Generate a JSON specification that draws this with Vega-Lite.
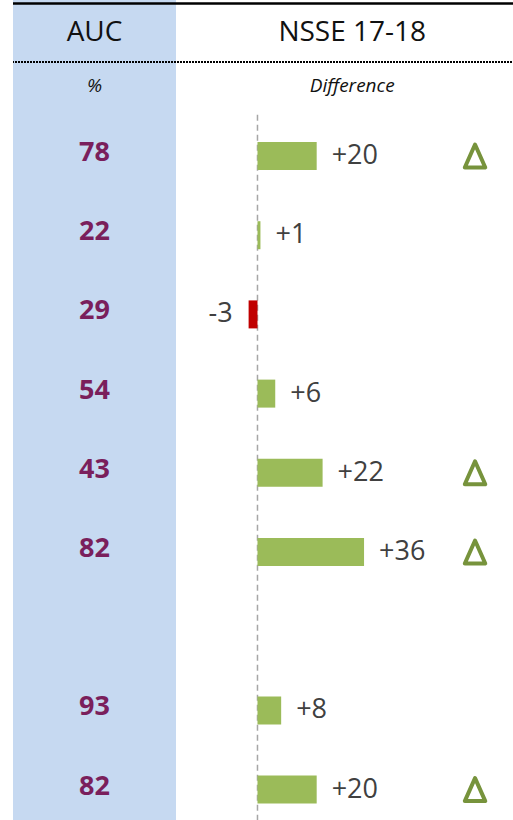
{
  "$schema": "https://vega.github.io/schema/vega-lite/v6.json",
  "padding": {"left": 11, "right": 0, "top": 0, "bottom": 0},
  "spacing": 0,
  "bounds": "flush",
  "background": "white",
  "config": {
    "view": {"stroke": null},
    "axisX": {"disable": true},
    "axisY": {"disable": true},
    "scale": {"continuousPadding": 0},
    "text": {"font": "Open Sans"}
  },
  "datasets": {
    "rows": [
      {"row": 1, "auc": 78, "diff": 20, "label": "+20", "sig": true},
      {"row": 2, "auc": 22, "diff": 1, "label": "+1", "sig": false},
      {"row": 3, "auc": 29, "diff": -3, "label": "-3", "sig": false},
      {"row": 4, "auc": 54, "diff": 6, "label": "+6", "sig": false},
      {"row": 5, "auc": 43, "diff": 22, "label": "+22", "sig": true},
      {"row": 6, "auc": 82, "diff": 36, "label": "+36", "sig": true},
      {"row": 8, "auc": 93, "diff": 8, "label": "+8", "sig": false},
      {"row": 9, "auc": 82, "diff": 20, "label": "+20", "sig": true}
    ],
    "header": [{"auc": "AUC", "auc_sub": "%", "nsse": "NSSE 17-18", "nsse_sub": "Difference"}]
  },
  "hconcat": [
    {
      "width": 163,
      "height": 820,
      "view": {"fill": "#C6D9F1", "stroke": null},
      "layer": [
        {
          "data": {"name": "rows"},
          "mark": {"type": "text", "fontWeight": "bold", "fontSize": 27, "color": "#7A1F5C", "baseline": "middle", "dy": -3},
          "encoding": {
            "y": {"field": "row", "type": "quantitative", "scale": {"domain": [-0.97, 9.384], "reverse": true, "zero": false, "nice": false, "padding": 0}, "axis": null},
            "text": {"field": "auc", "type": "quantitative"}
          }
        },
        {
          "data": {"name": "header"},
          "mark": {"type": "text", "fontSize": 28, "color": "#111111", "baseline": "middle"},
          "encoding": {
            "y": {"datum": -0.55, "type": "quantitative"},
            "text": {"field": "auc"}
          }
        },
        {
          "data": {"name": "header"},
          "mark": {"type": "text", "fontSize": 19, "fontStyle": "italic", "color": "#111111", "baseline": "middle"},
          "encoding": {
            "y": {"datum": 0.12, "type": "quantitative"},
            "text": {"field": "auc_sub"}
          }
        },
        {
          "data": {"name": "header"},
          "mark": {"type": "rule", "color": "#000000", "strokeWidth": 2.5},
          "encoding": {"y": {"datum": -0.925, "type": "quantitative"}}
        },
        {
          "data": {"name": "header"},
          "mark": {"type": "rule", "color": "#000000", "strokeWidth": 2, "strokeDash": [2, 1]},
          "encoding": {"y": {"datum": -0.187, "type": "quantitative"}}
        }
      ]
    },
    {
      "width": 339,
      "height": 820,
      "layer": [
        {
          "data": {"name": "header"},
          "mark": {"type": "rule", "color": "#A6A6A6", "strokeWidth": 1.5, "strokeDash": [6, 4]},
          "encoding": {
            "x": {"datum": 0, "type": "quantitative", "scale": {"domain": [-27.53, 87.0], "zero": false, "nice": false, "padding": 0}, "axis": null},
            "y": {"datum": 0.48, "type": "quantitative", "scale": {"domain": [-0.97, 9.384], "reverse": true, "zero": false, "nice": false, "padding": 0}, "axis": null},
            "y2": {"datum": 9.384}
          }
        },
        {
          "data": {"name": "rows"},
          "mark": {"type": "bar", "orient": "horizontal", "size": 28},
          "encoding": {
            "x": {"field": "diff", "type": "quantitative"},
            "x2": {"datum": 0},
            "y": {"field": "row", "type": "quantitative"},
            "color": {"condition": {"test": "datum.diff < 0", "value": "#C00000"}, "value": "#9BBB59"}
          }
        },
        {
          "data": {"name": "rows"},
          "transform": [{"filter": "datum.diff >= 0"}],
          "mark": {"type": "text", "fontSize": 27, "color": "#404040", "align": "left", "baseline": "middle", "dx": 15},
          "encoding": {
            "x": {"field": "diff", "type": "quantitative"},
            "y": {"field": "row", "type": "quantitative"},
            "text": {"field": "label"}
          }
        },
        {
          "data": {"name": "rows"},
          "transform": [{"filter": "datum.diff < 0"}],
          "mark": {"type": "text", "fontSize": 27, "color": "#404040", "align": "right", "baseline": "middle", "dx": -16},
          "encoding": {
            "x": {"field": "diff", "type": "quantitative"},
            "y": {"field": "row", "type": "quantitative"},
            "text": {"field": "label"}
          }
        },
        {
          "data": {"name": "rows"},
          "transform": [{"filter": "datum.sig"}],
          "mark": {"type": "point", "shape": "M0,-1L0.89,1L-0.89,1Z", "size": 529, "filled": false, "stroke": "#77933C", "strokeWidth": 4, "strokeJoin": "round", "opacity": 1},
          "encoding": {
            "x": {"datum": 73.5, "type": "quantitative"},
            "y": {"field": "row", "type": "quantitative"}
          }
        },
        {
          "data": {"name": "header"},
          "mark": {"type": "text", "fontSize": 28, "color": "#111111", "baseline": "middle"},
          "encoding": {
            "x": {"datum": 32, "type": "quantitative"},
            "y": {"datum": -0.55, "type": "quantitative"},
            "text": {"field": "nsse"}
          }
        },
        {
          "data": {"name": "header"},
          "mark": {"type": "text", "fontSize": 19, "fontStyle": "italic", "color": "#111111", "baseline": "middle"},
          "encoding": {
            "x": {"datum": 32, "type": "quantitative"},
            "y": {"datum": 0.12, "type": "quantitative"},
            "text": {"field": "nsse_sub"}
          }
        },
        {
          "data": {"name": "header"},
          "mark": {"type": "rule", "color": "#000000", "strokeWidth": 2.5},
          "encoding": {"y": {"datum": -0.925, "type": "quantitative"}}
        },
        {
          "data": {"name": "header"},
          "mark": {"type": "rule", "color": "#000000", "strokeWidth": 2, "strokeDash": [2, 1]},
          "encoding": {"y": {"datum": -0.187, "type": "quantitative"}}
        }
      ]
    }
  ]
}
